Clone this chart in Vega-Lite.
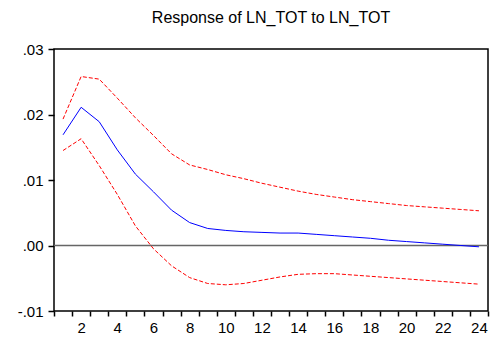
{
  "$schema": "https://vega.github.io/schema/vega-lite/v6.json",
  "autosize": "none",
  "width": 434,
  "height": 262,
  "padding": {"left": 54, "top": 49, "right": 4, "bottom": 28},
  "title": {"text": "Response of LN_TOT to LN_TOT", "font": "Liberation Sans", "fontSize": 16, "fontWeight": "normal", "color": "#000", "offset": 16},
  "config": {"view": {"stroke": "#000", "strokeWidth": 1.5}},
  "data": {"values": [
    {"period": 1, "response": 0.0169, "upper": 0.0193, "lower": 0.0145},
    {"period": 2, "response": 0.0211, "upper": 0.0258, "lower": 0.0163},
    {"period": 3, "response": 0.0189, "upper": 0.0254, "lower": 0.0122},
    {"period": 4, "response": 0.0146, "upper": 0.0225, "lower": 0.0078},
    {"period": 5, "response": 0.0109, "upper": 0.0195, "lower": 0.0030},
    {"period": 6, "response": 0.0082, "upper": 0.0168, "lower": -0.0005},
    {"period": 7, "response": 0.0054, "upper": 0.0140, "lower": -0.0031},
    {"period": 8, "response": 0.0035, "upper": 0.0123, "lower": -0.0049},
    {"period": 9, "response": 0.0026, "upper": 0.0116, "lower": -0.0058},
    {"period": 10, "response": 0.0023, "upper": 0.0108, "lower": -0.0060},
    {"period": 11, "response": 0.0021, "upper": 0.0102, "lower": -0.0058},
    {"period": 12, "response": 0.0020, "upper": 0.0095, "lower": -0.0053},
    {"period": 13, "response": 0.0019, "upper": 0.0089, "lower": -0.0048},
    {"period": 14, "response": 0.0019, "upper": 0.0083, "lower": -0.0044},
    {"period": 15, "response": 0.0017, "upper": 0.0078, "lower": -0.0043},
    {"period": 16, "response": 0.0015, "upper": 0.0074, "lower": -0.0043},
    {"period": 17, "response": 0.0013, "upper": 0.0070, "lower": -0.0045},
    {"period": 18, "response": 0.0011, "upper": 0.0067, "lower": -0.0047},
    {"period": 19, "response": 0.0008, "upper": 0.0064, "lower": -0.0049},
    {"period": 20, "response": 0.0006, "upper": 0.0061, "lower": -0.0051},
    {"period": 21, "response": 0.0004, "upper": 0.0059, "lower": -0.0053},
    {"period": 22, "response": 0.0002, "upper": 0.0057, "lower": -0.0055},
    {"period": 23, "response": 0.0000, "upper": 0.0055, "lower": -0.0057},
    {"period": 24, "response": -0.0002, "upper": 0.0053, "lower": -0.0059}
  ]},
  "encoding": {
    "x": {"field": "period", "type": "quantitative",
      "scale": {"domain": [0.5, 24.5], "nice": false, "zero": false},
      "axis": {"title": null, "grid": false, "domain": false,
        "values": [0.5,1.5,2.5,3.5,4.5,5.5,6.5,7.5,8.5,9.5,10.5,11.5,12.5,13.5,14.5,15.5,16.5,17.5,18.5,19.5,20.5,21.5,22.5,23.5,24.5],
        "labelExpr": "(datum.value + 0.5) % 2 == 0 && datum.value < 24 ? format(datum.value + 0.5, 'd') : ''",
        "labelOffset": 9.04, "labelFlush": false, "labelOverlap": false, "labelBound": false,
        "tickSize": 5, "tickColor": "#000", "tickWidth": 1.5,
        "labelFont": "Liberation Sans", "labelFontSize": 15, "labelColor": "#000", "labelPadding": 4}
    }
  },
  "layer": [
    {"data": {"values": [{"zero": 0}]},
     "mark": {"type": "rule", "color": "#666666", "strokeWidth": 1.5},
     "encoding": {"y": {"field": "zero", "type": "quantitative"}, "x": null}},
    {"mark": {"type": "line", "color": "#FF0000", "strokeWidth": 1, "strokeDash": [4, 2]},
     "encoding": {"y": {"field": "upper", "type": "quantitative",
       "scale": {"domain": [-0.01, 0.03], "nice": false, "zero": false},
       "axis": {"title": null, "grid": false, "domain": false,
         "values": [-0.01, 0, 0.01, 0.02, 0.03],
         "labelExpr": "replace(replace(format(datum.value, '.2f'), '0.', '.'), '\u2212', '-')",
         "tickSize": 6, "tickColor": "#000", "tickWidth": 1.5,
         "labelFont": "Liberation Sans", "labelFontSize": 15, "labelColor": "#000", "labelPadding": 5}}}},
    {"mark": {"type": "line", "color": "#FF0000", "strokeWidth": 1, "strokeDash": [4, 2]},
     "encoding": {"y": {"field": "lower", "type": "quantitative"}}},
    {"mark": {"type": "line", "color": "#0000FF", "strokeWidth": 1},
     "encoding": {"y": {"field": "response", "type": "quantitative"}}}
  ]
}
